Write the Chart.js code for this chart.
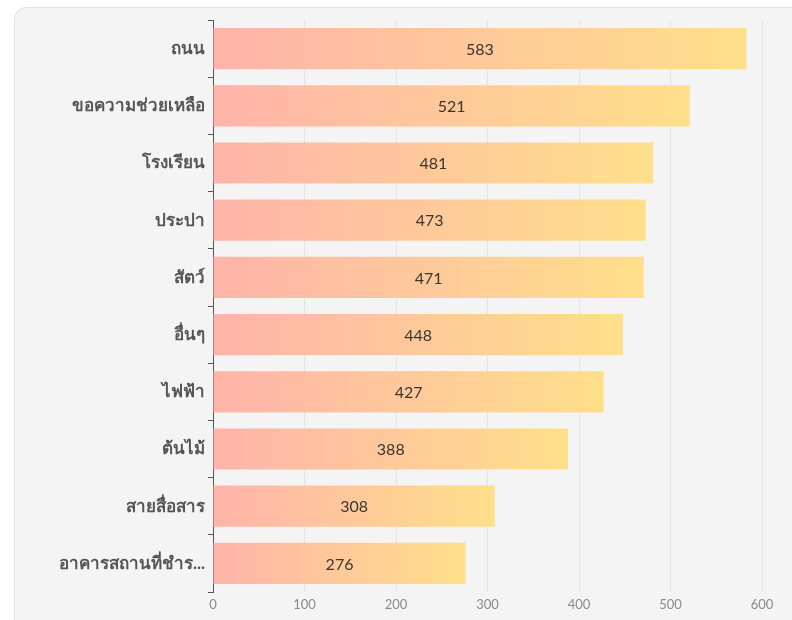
<!DOCTYPE html>
<html>
<head>
<meta charset="utf-8">
<script src="https://cdn.jsdelivr.net/npm/chart.js@4.4.1/dist/chart.umd.min.js"></script>
<style>
  html, body { margin: 0; padding: 0; background: #ffffff; }
  .card {
    position: absolute; left: 14px; top: 7px; width: 820px; height: 650px;
    background: #f4f4f4; border: 1px solid #e3e3e3; border-radius: 12px;
  }
  .wrap { position: absolute; left: 0; top: 0; width: 792px; height: 620px; }
</style>
</head>
<body>
<div class="card"></div>
<div class="wrap"><canvas id="chart"></canvas></div>
<script>
const categories = ['ถนน', 'ขอความช่วยเหลือ', 'โรงเรียน', 'ประปา', 'สัตว์', 'อื่นๆ', 'ไฟฟ้า', 'ต้นไม้', 'สายสื่อสาร', 'อาคารสถานที่ชำร...'];
const counts = [583, 521, 481, 473, 471, 448, 427, 388, 308, 276];
const xTicks = [0, 100, 200, 300, 400, 500, 600];

const FONT = 'Lato, "Noto Sans", sans-serif';

// per-bar gradient: pink at the axis, yellow at the bar end
function barGradient(ctx) {
  const chart = ctx.chart;
  const area = chart.chartArea;
  if (!area || ctx.type !== 'data') return '#ffc9a0';
  const x = chart.scales.x;
  const x0 = x.getPixelForValue(0);
  const x1 = x.getPixelForValue(counts[ctx.dataIndex]);
  const g = chart.ctx.createLinearGradient(x0, 0, x1, 0);
  g.addColorStop(0, '#ffb3aa');
  g.addColorStop(1, '#ffdf8a');
  return g;
}

const valueLabels = {
  id: 'valueLabels',
  afterDatasetsDraw(chart) {
    const ctx = chart.ctx;
    const meta = chart.getDatasetMeta(0);
    ctx.save();
    ctx.font = '16px ' + FONT;
    ctx.fillStyle = '#3a3530';
    ctx.textAlign = 'center';
    ctx.textBaseline = 'middle';
    meta.data.forEach((bar, i) => {
      ctx.fillText(String(counts[i]), (bar.x + bar.base) / 2, bar.y + 1);
    });
    ctx.restore();
  }
};

new Chart(document.getElementById('chart'), {
  type: 'bar',
  data: {
    labels: categories,
    datasets: [{
      data: counts,
      backgroundColor: barGradient,
      borderWidth: 0
    }]
  },
  options: {
    indexAxis: 'y',
    responsive: true,
    maintainAspectRatio: false,
    animation: false,
    layout: { padding: { top: 20, right: 30, bottom: 0, left: 0 } },
    plugins: {
      legend: { display: false },
      tooltip: { enabled: false }
    },
    scales: {
      x: {
        min: 0,
        max: 600,
        afterBuildTicks(scale) { scale.ticks = xTicks.map(v => ({ value: v })); },
        afterFit(scale) { scale.height = 28; },
        grid: { color: '#e4e4e4', drawTicks: false },
        border: { display: false },
        ticks: { color: '#8a8a8a', font: { family: FONT, size: 13 }, padding: 5 }
      },
      y: {
        afterFit(scale) { scale.width = 213; },
        grid: { drawOnChartArea: false, drawTicks: true, tickLength: 5, color: '#555555' },
        border: { display: true, color: '#555555', width: 1 },
        ticks: { color: '#555555', font: { family: FONT, size: 17, weight: 'bold' }, padding: 3 }
      }
    }
  },
  plugins: [valueLabels]
});
</script>
</body>
</html>
